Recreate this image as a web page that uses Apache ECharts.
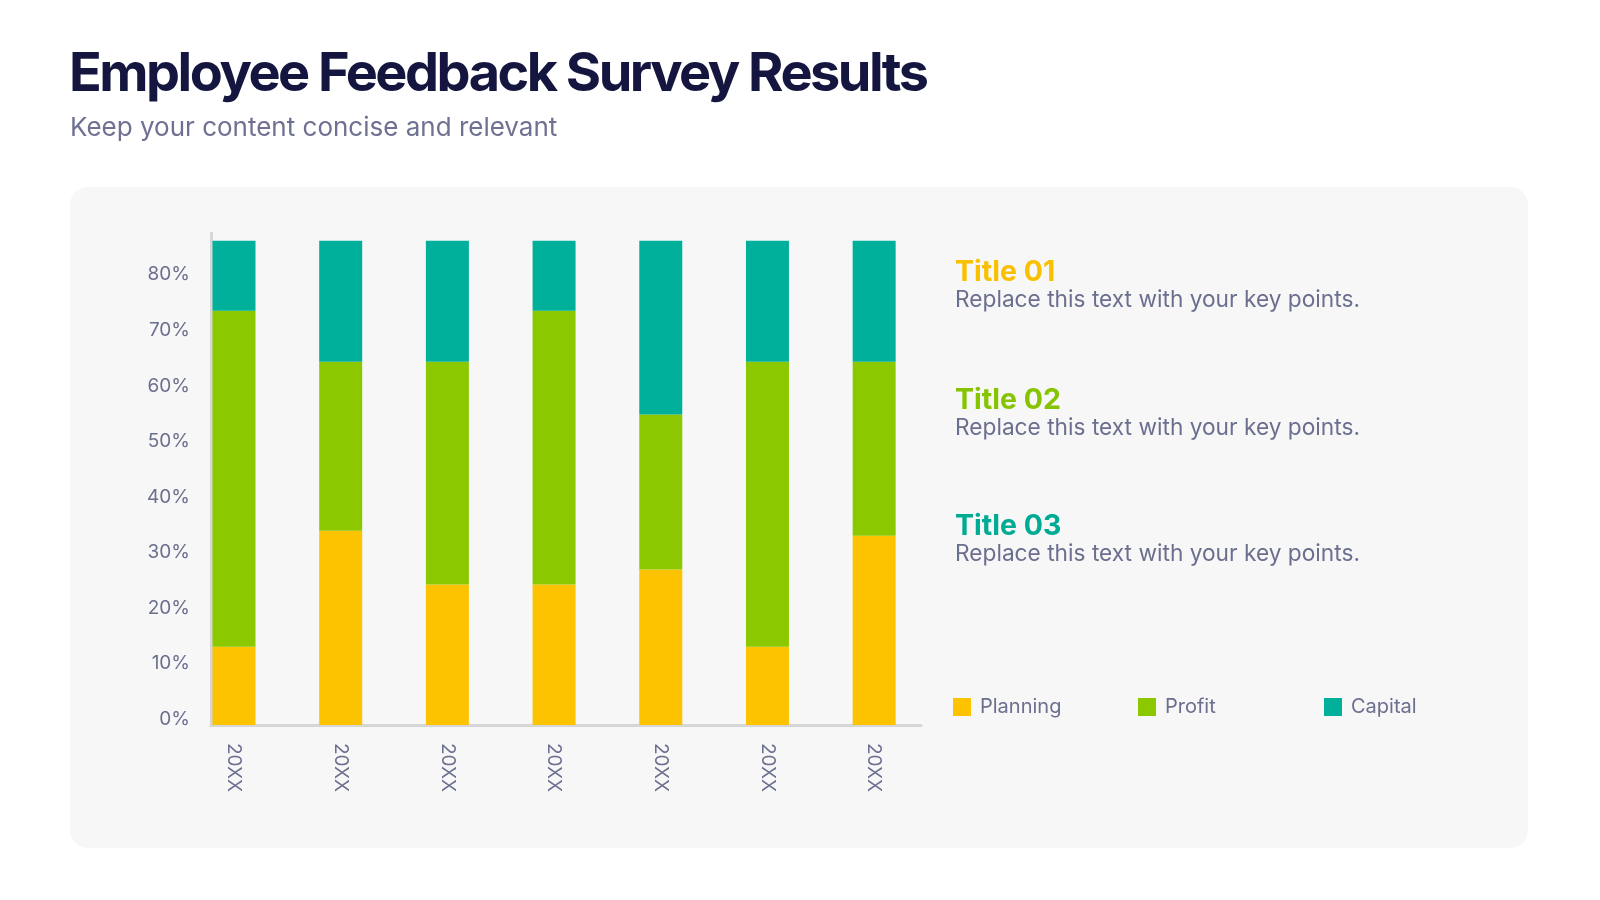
<!DOCTYPE html>
<html>
<head>
<meta charset="utf-8">
<script src="https://cdn.jsdelivr.net/npm/echarts@6/dist/echarts.min.js"></script>
<style>
html,body{margin:0;padding:0;background:#ffffff;}
#wrap{position:relative;width:1600px;height:900px;}
#chart{width:1600px;height:900px;}
#title{position:absolute;left:69px;top:45px;margin:0;font-family:Inter,"Noto Sans",sans-serif;font-weight:700;
  font-size:54px;line-height:54px;letter-spacing:-2.5px;color:#14163f;white-space:nowrap;z-index:5;}
</style>
</head>
<body>
<div id="wrap">
<h1 id="title"></h1>
<div id="chart"></div>
</div>
<script>
const categories = ['20XX','20XX','20XX','20XX','20XX','20XX','20XX'];
const planning = [14.1, 35.0, 25.3, 25.3, 28.0, 14.1, 34.1];
const profit   = [60.5, 30.4, 40.1, 49.3, 27.9, 51.3, 31.3];
const capital  = [12.6, 21.8, 21.8, 12.6, 31.3, 21.8, 21.8];
const seriesNames = ['Planning','Profit','Capital'];
const yTicks = [0,10,20,30,40,50,60,70,80];
const yMax = 88.6;
const titleText = 'Employee Feedback Survey Results';
const subtitleText = 'Keep your content concise and relevant';
const sideTitles = ['Title 01','Title 02','Title 03'];
const sideBody = 'Replace this text with your key points.';

const colors = ['#fdc300','#8cc800','#00b09b'];
const titleColors = ['#f9c000','#86c300','#00ab94'];
const FONT = 'Inter, "Noto Sans", sans-serif';

document.getElementById('title').textContent = titleText;

const chart = echarts.init(document.getElementById('chart'));

const sideGraphics = [];
const sideTops = [273, 400.5, 527];
sideTitles.forEach((t,i)=>{
  sideGraphics.push({type:'text', left:955, top: sideTops[i]-15, z:10,
    style:{text:t, fill:titleColors[i], font:'700 28.5px '+FONT}});
  sideGraphics.push({type:'text', left:955, top: sideTops[i]+16, z:10,
    style:{text:sideBody, fill:'#6b6f8e', font:'400 22.7px '+FONT}});
});

const legends = seriesNames.map((n,i)=>({
  data:[n], left:[953,1138,1324][i], top:697, padding:0, icon:'rect', itemWidth:18, itemHeight:18,
  textStyle:{color:'#6b6f8e', fontSize:20, fontFamily:FONT, padding:[0,0,0,4]}
}));

const option = {
  backgroundColor:'#ffffff',
  animation:false,
  graphic:[
    {type:'rect', left:70, top:187, z:-10, shape:{width:1458, height:661, r:18}, style:{fill:'#f7f7f7'}},
    {type:'text', left:70, top:115, z:10, style:{text:subtitleText, fill:'#6e7191', font:'400 26px '+FONT}},
    ...sideGraphics
  ],
  legend:legends,
  grid:[
    {left:180.65, right:672.5, top:233, bottom:175},
    {left:211, right:679, top:233, bottom:175}
  ],
  xAxis:[
    {type:'category', gridIndex:0, data:categories, axisLine:{show:false}, axisTick:{show:false},
     axisLabel:{rotate:-90, margin:18, color:'#6b6f8e', fontSize:19, fontFamily:FONT}},
    {type:'value', gridIndex:1, min:0, max:1, axisLine:{show:true, lineStyle:{color:'#d6d6d6', width:3}},
     axisTick:{show:false}, axisLabel:{show:false}, splitLine:{show:false}}
  ],
  yAxis:[
    {type:'value', gridIndex:0, min:0, max:yMax, interval:10, show:false, splitLine:{show:false}},
    {type:'value', gridIndex:1, min:0, max:yMax, interval:10,
     axisLine:{show:true, lineStyle:{color:'#d6d6d6', width:3}}, axisTick:{show:false}, splitLine:{show:false},
     axisLabel:{showMaxLabel:false, margin:21, color:'#6b6f8e', fontSize:19, fontFamily:FONT,
       verticalAlign:'bottom', lineHeight:12,
       formatter:(v)=> yTicks.includes(v) ? v+'%' : ''}}
  ],
  series:[
    {name:seriesNames[0], type:'bar', stack:'s', xAxisIndex:0, yAxisIndex:0, barWidth:43, data:planning, itemStyle:{color:colors[0]}},
    {name:seriesNames[1], type:'bar', stack:'s', xAxisIndex:0, yAxisIndex:0, barWidth:43, data:profit, itemStyle:{color:colors[1]}},
    {name:seriesNames[2], type:'bar', stack:'s', xAxisIndex:0, yAxisIndex:0, barWidth:43, data:capital, itemStyle:{color:colors[2]}}
  ]
};
chart.setOption(option);
</script>
</body>
</html>
